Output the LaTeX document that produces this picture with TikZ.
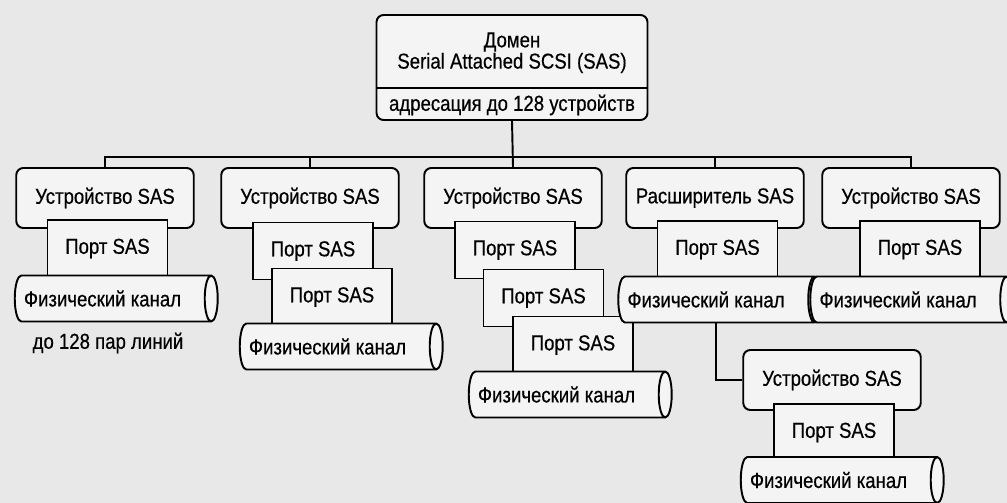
\documentclass[tikz,border=0pt]{standalone}
\usepackage{fontspec}
\setmainfont{Liberation Sans}[FakeStretch=0.86, FakeBold=0.5]
\usepackage{xcolor}
\usetikzlibrary{shapes,positioning,calc}

\definecolor{paper}{gray}{0.91}
\definecolor{boxfill}{gray}{0.955}

\begin{document}
\begin{tikzpicture}[
    x=0.02cm, y=-0.02cm,
    line width=1.1pt,
    font=\fontsize{12.3}{13}\selectfont,
    sasdomain/.style={rectangle, draw, rounded corners=4pt, fill=boxfill, minimum width=5.42cm, minimum height=2.1cm},
    device/.style={rectangle, draw, rounded corners=4pt, fill=boxfill, minimum width=3.55cm, minimum height=1.2cm, inner sep=0pt},
    port/.style={rectangle, draw, fill=boxfill, minimum width=2.4cm, minimum height=1.14cm, inner sep=0pt},
    channel/.style={cylinder, draw, fill=boxfill, shape aspect=0.8, minimum height=4.06cm, minimum width=0.92cm, inner sep=0pt,
        execute at end node={\hspace{0.4cm}}},
]
\path[use as bounding box, fill=paper] (0,0) rectangle (1007,503);

% SAS domain
\node[sasdomain] (dom) at (512,67.5) {};
\node (domname) at (512,42) {Домен};
\node (domtype) at (512,63) {Serial Attached SCSI (SAS)};
\node (domaddr) at (512,105) {адресация до 128 устройств};
\coordinate (split) at (0,88);
\draw (dom.west |- split) -- (dom.east |- split);

% first row of devices
\node[device] (dev1) at (105,198) {Устройство SAS};
\node[device] (dev2) at (310,198) {Устройство SAS};
\node[device] (dev3) at (513,198) {Устройство SAS};
\node[device] (exp) at (715,198) {Расширитель SAS};
\node[device] (dev5) at (911,198) {Устройство SAS};

% bus
\coordinate (bus) at (0,157);
\draw (dom.south) -- (dev3.north);
\draw (dev1.north) -- (dev1.north |- bus) -- (dev5.north |- bus) -- (dev5.north);
\foreach \d in {dev2,exp}
    \draw (\d.north) -- (\d.north |- bus);

% device 1
\node[port] (p1) at (107.5,248.5) {Порт SAS};
\node[channel] (ch1) at (112.5,298.5) {Физический канал};
\node (lanes) at (108,343) {до 128 пар линий};

% device 2
\node[port] (p21) at (313,251) {Порт SAS};
\node[port] (p22) at (332,297) {Порт SAS};
\node[channel] (ch2) at (337.5,346.5) {Физический канал};

% device 3
\node[port] (p31) at (515,250) {Порт SAS};
\node[port] (p32) at (543.5,298) {Порт SAS};
\node[port] (p33) at (573,345) {Порт SAS};
\node[channel] (ch3) at (566.5,394.5) {Физический канал};

% expander
\node[port] (pexp) at (717.5,249.5) {Порт SAS};
\node[channel] (chexp) at (716,299.5) {Физический канал};

% device 5
\node[port] (p5) at (920,249.5) {Порт SAS};
\node[channel] (ch5) at (908,299.5) {Физический канал};

% device behind the expander
\node[device] (dev6) at (832,380) {Устройство SAS};
\node[port] (p6) at (834,432.5) {Порт SAS};
\node[channel] (ch6) at (838.5,480) {Физический канал};
\draw (chexp.south) |- (dev6.west);

\end{tikzpicture}
\end{document}
